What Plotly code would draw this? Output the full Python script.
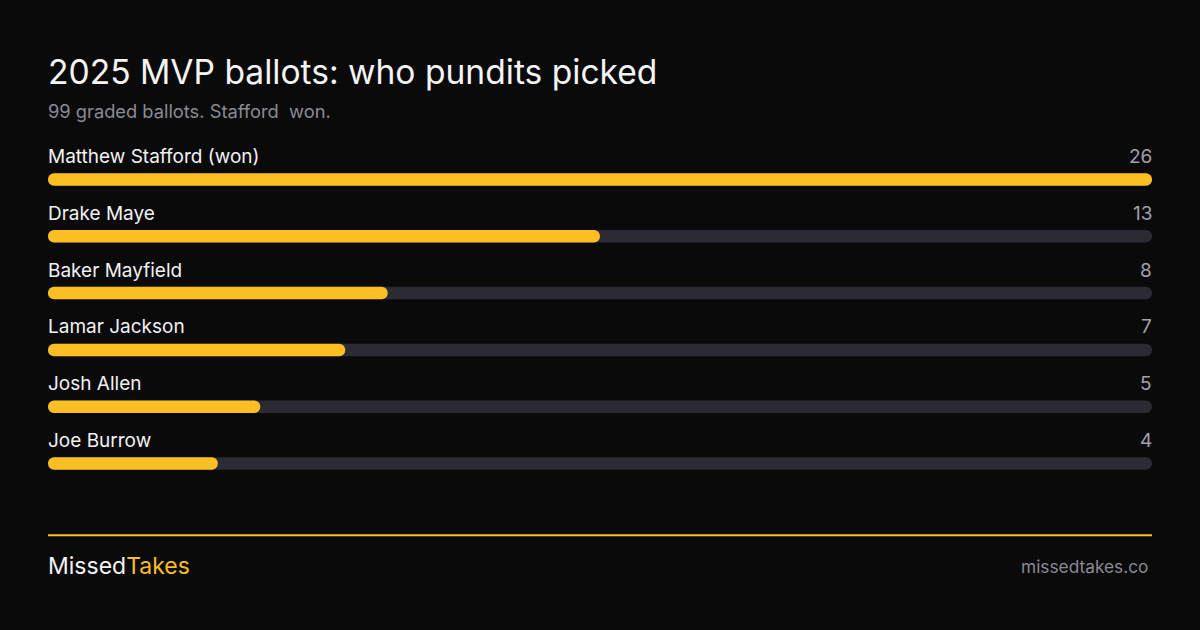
import plotly.graph_objects as go

# ballots per player
players = ["Matthew Stafford (won)", "Drake Maye", "Baker Mayfield",
           "Lamar Jackson", "Josh Allen", "Joe Burrow"]
votes = [26, 13, 8, 7, 5, 4]

BG = "#0a0a0a"
YELLOW = "#fbbf24"
TRACK = "#2c2a33"
FONT = "Inter"

max_v = max(votes)
rows = list(range(len(players)))

# pixel layout -> margins
L, R = 48, 48
TOP, BOT = 150.5, 137.5
plot_h = 630 - TOP - BOT


def py(p):
    # pixel y -> paper y
    return (630 - BOT - p) / plot_h


def px(p):
    return (p - L) / (1200 - L - R)


def note(**kw):
    # plain text annotation, no box padding
    fig.add_annotation(showarrow=False, borderpad=0, borderwidth=0, **kw)


fig = go.Figure()

# explicit base=0 gets both ends of the bar rounded
def add_rounded(vals, color):
    fig.add_trace(go.Bar(y=rows, x=vals, base=[0] * len(vals), orientation="h",
                         marker=dict(color=color, cornerradius=6, line_width=0),
                         width=12.5 / 57, hoverinfo="skip", showlegend=False))


add_rounded([max_v] * len(players), TRACK)
add_rounded(votes, YELLOW)

for i, (name, v) in enumerate(zip(players, votes)):
    note(x=0, y=i, xref="paper", yref="y", text=name,
         xanchor="left", yanchor="middle", yshift=23,
         font=dict(family=FONT, size=19, color="#f2f2f2"))
    note(x=1, y=i, xref="paper", yref="y", text=str(v),
         xanchor="right", yanchor="middle", yshift=23,
         font=dict(family=FONT, size=19, color="#a1a1aa"))

# title + subtitle
note(x=0, y=py(71), xref="paper", yref="paper",
     text="2025 MVP ballots: who pundits picked",
     xanchor="left", yanchor="middle",
     font=dict(family=FONT, size=33.6, color="#f4f4f5"))
note(x=0, y=py(110), xref="paper", yref="paper",
     text="99 graded ballots. Stafford&nbsp; won.",
     xanchor="left", yanchor="middle",
     font=dict(family=FONT, size=18.3, color="#8a8a93"))

# footer
fig.add_shape(type="line", xref="paper", yref="paper", x0=0, x1=1,
              y0=py(536), y1=py(536), line=dict(color=YELLOW, width=2))
note(x=0, y=py(567), xref="paper", yref="paper",
     text="Missed<span style='color:" + YELLOW + "'>Takes</span>",
     xanchor="left", yanchor="middle",
     font=dict(family=FONT, size=23, color="#f4f4f5"))
note(x=px(1148), y=py(567), xref="paper", yref="paper",
     text="missedtakes.co", xanchor="right", yanchor="middle",
     font=dict(family=FONT, size=17.3, color="#8a8a93"))

fig.update_layout(
    width=1200, height=630,
    paper_bgcolor=BG, plot_bgcolor=BG,
    margin=dict(l=L, r=R, t=TOP, b=BOT, pad=0),
    barmode="overlay",
    xaxis=dict(range=[0, max_v], visible=False, fixedrange=True),
    yaxis=dict(range=[len(players) - 0.5, -0.5], visible=False, fixedrange=True),
)

fig.write_html("out.html", config={"displayModeBar": False},
               post_script="document.body.style.margin='0';document.body.style.background='" + BG + "';")
